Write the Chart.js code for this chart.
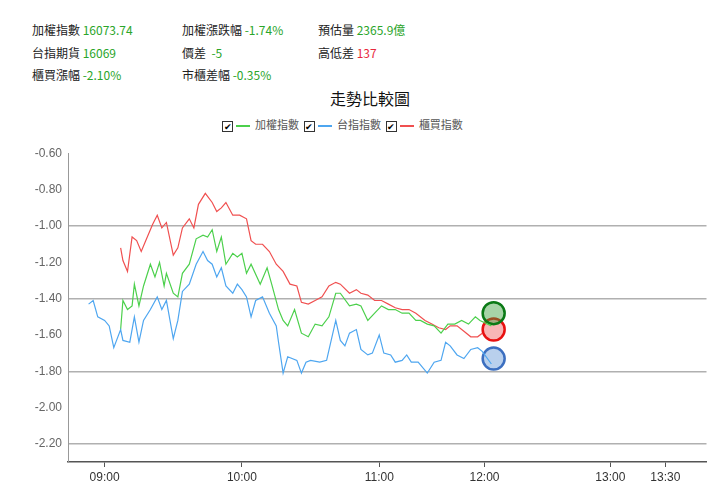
<!DOCTYPE html><html><head><meta charset="utf-8">
<script src="https://cdn.jsdelivr.net/npm/chart.js@4"></script>
<style>
body{margin:0;width:720px;height:492px;background:#fff;font-family:"Noto Sans CJK TC","Noto Sans",sans-serif;position:relative;overflow:hidden}
.t{position:absolute;font-size:12px;color:#222;white-space:nowrap}
.g{color:#2aa52a}.r{color:#e8283c}
#title{position:absolute;left:0;width:740px;top:86px;text-align:center;font-size:16px;color:#111}
#leg{position:absolute;left:222px;top:116px;font-size:11px;color:#555;white-space:nowrap}
.cb{display:inline-block;width:9px;height:9px;border:1px solid #333;font-size:9px;line-height:9px;text-align:center;vertical-align:middle;margin-right:3px;color:#000}
.ln{display:inline-block;width:14px;height:2px;vertical-align:middle;margin-right:5px}
#wrap{position:absolute;left:0;top:140px;width:720px;height:352px}
</style></head><body>
<div class="t" style="left:32px;top:21px">加權指數 <span class="g">16073.74</span></div>
<div class="t" style="left:182px;top:21px">加權漲跌幅 <span class="g">-1.74%</span></div>
<div class="t" style="left:318px;top:21px">預估量 <span class="g">2365.9億</span></div>
<div class="t" style="left:32px;top:44px">台指期貨 <span class="g">16069</span></div>
<div class="t" style="left:182px;top:44px">價差 &nbsp;<span class="g">-5</span></div>
<div class="t" style="left:318px;top:44px">高低差 <span class="r">137</span></div>
<div class="t" style="left:32px;top:66px">櫃買漲幅 <span class="g">-2.10%</span></div>
<div class="t" style="left:182px;top:66px">市櫃差幅 <span class="g">-0.35%</span></div>
<div id="title">走勢比較圖</div>
<div id="leg"><span class="cb">✔</span><span class="ln" style="background:#4cd04c"></span>加權指數 &nbsp;<span class="cb">✔</span><span class="ln" style="background:#4ea6f0"></span>台指指數 &nbsp;<span class="cb">✔</span><span class="ln" style="background:#f05050"></span>櫃買指數</div>
<div id="wrap"><canvas id="c"></canvas></div>
<script>
const tickMinutes=[0,60,120,166,221,245];
const tickLabels=['09:00','10:00','11:00','12:00','13:00','13:30'];
const yTicks=[-0.6,-0.8,-1.0,-1.2,-1.4,-1.6,-1.8,-2.0,-2.2];
const blueT=[-7,-5,-3,0,2,4,7,8,11,13,15,17,20,23,25,27,30,32,34,37,40,43,45,47,49,51,53,56,58,60,62,64,66,69,72,75,76,78,80,84,86,88,90,94,97,101,103,105,107,110,112,115,117,120,122,125,127,130,132,134,137,141,144,147,149,151,154,157,160,163,165,169];
const blueV=[-1.43,-1.41,-1.50,-1.52,-1.55,-1.67,-1.57,-1.63,-1.64,-1.50,-1.64,-1.52,-1.46,-1.39,-1.46,-1.41,-1.62,-1.52,-1.36,-1.32,-1.21,-1.14,-1.19,-1.21,-1.28,-1.23,-1.33,-1.37,-1.32,-1.35,-1.39,-1.50,-1.41,-1.39,-1.48,-1.55,-1.64,-1.81,-1.72,-1.74,-1.81,-1.75,-1.74,-1.75,-1.74,-1.52,-1.63,-1.66,-1.59,-1.57,-1.68,-1.71,-1.70,-1.60,-1.70,-1.71,-1.75,-1.74,-1.71,-1.75,-1.75,-1.81,-1.75,-1.74,-1.64,-1.66,-1.71,-1.73,-1.68,-1.67,-1.69,-1.76];
const greenT=[7,8,10,12,13,15,17,20,22,24,26,27,30,32,34,37,40,43,45,47,49,51,53,56,58,60,62,64,68,71,73,76,78,80,83,86,89,92,95,98,101,103,107,110,112,115,118,121,124,127,130,133,136,138,141,144,147,150,153,156,159,162,164,169];
const greenV=[-1.57,-1.41,-1.46,-1.44,-1.32,-1.44,-1.33,-1.21,-1.28,-1.20,-1.33,-1.26,-1.37,-1.39,-1.26,-1.21,-1.07,-1.05,-1.06,-1.02,-1.14,-1.06,-1.21,-1.15,-1.17,-1.15,-1.26,-1.21,-1.32,-1.23,-1.32,-1.46,-1.52,-1.55,-1.46,-1.59,-1.61,-1.54,-1.55,-1.50,-1.37,-1.37,-1.44,-1.43,-1.44,-1.52,-1.48,-1.44,-1.46,-1.46,-1.48,-1.48,-1.52,-1.52,-1.54,-1.55,-1.59,-1.54,-1.54,-1.52,-1.54,-1.50,-1.52,-1.55];
const redT=[7,8,10,12,14,16,18,21,23,25,27,30,32,34,37,39,41,44,47,49,51,53,56,59,62,64,66,69,72,75,78,81,84,86,89,92,95,98,101,103,107,110,112,115,118,121,124,127,130,133,136,140,143,146,149,151,154,157,160,163,165];
const redV=[-1.12,-1.19,-1.25,-1.06,-1.08,-1.14,-1.08,-0.99,-0.94,-1.01,-0.98,-1.16,-1.12,-1.01,-0.96,-1.01,-0.88,-0.82,-0.87,-0.92,-0.90,-0.87,-0.94,-0.94,-0.96,-1.08,-1.10,-1.10,-1.14,-1.21,-1.25,-1.32,-1.33,-1.42,-1.43,-1.41,-1.39,-1.33,-1.31,-1.32,-1.37,-1.35,-1.37,-1.38,-1.41,-1.41,-1.43,-1.45,-1.46,-1.46,-1.48,-1.52,-1.54,-1.56,-1.57,-1.55,-1.55,-1.58,-1.61,-1.61,-1.59];
const endT=170, endV={green:-1.48,red:-1.57,blue:-1.73};
const pts=(t,v)=>t.slice(0,Math.min(t.length,v.length)).map((x,i)=>({x,y:v[i]}));
const line=(d,c)=>({type:'line',data:d,borderColor:c,borderWidth:1.2,pointRadius:0,tension:0,fill:false});
const dot=(v,f,b)=>({type:'scatter',data:[{x:endT,y:v}],backgroundColor:f,borderColor:b,borderWidth:2.5,pointRadius:11});
new Chart(document.getElementById('c'),{
 data:{datasets:[line(pts(blueT,blueV),'#4ea6f0'),line(pts(greenT,greenV),'#4cd04c'),line(pts(redT,redV),'#f05050'),
  dot(endV.green,'rgba(60,160,60,0.45)','#0b7a16'),dot(endV.red,'rgba(240,90,90,0.45)','#e81010'),dot(endV.blue,'rgba(100,150,215,0.45)','#3c6fc0')]},
 options:{responsive:true,maintainAspectRatio:false,animation:false,
  layout:{padding:{top:8,right:10,left:0,bottom:0}},
  plugins:{legend:{display:false},tooltip:{enabled:false}},
  scales:{
   x:{type:'linear',min:-16,max:263,
    afterBuildTicks:s=>{s.ticks=tickMinutes.map(v=>({value:v}));},
    afterFit:s=>{s.height=30;},
    ticks:{callback:v=>tickLabels[tickMinutes.indexOf(v)],color:'#333',font:{size:12},maxRotation:0,autoSkip:false},
    grid:{display:true,drawOnChartArea:false,tickLength:5,color:'#555'},border:{color:'#555',width:1.5}},
   y:{min:-2.3,max:-0.6,
    afterBuildTicks:s=>{s.ticks=yTicks.map(v=>({value:v}));},
    afterFit:s=>{s.width=68;},
    ticks:{callback:v=>v.toFixed(2),color:'#666',font:{size:12},padding:6},
    grid:{color:c=>[-1.0,-1.4,-1.8,-2.2].some(g=>Math.abs(g-c.tick.value)<1e-6)?'#b0b0b0':'rgba(0,0,0,0)',lineWidth:1.5,drawTicks:false},
    border:{color:'#999',width:1}}
  }}
});
</script></body></html>
